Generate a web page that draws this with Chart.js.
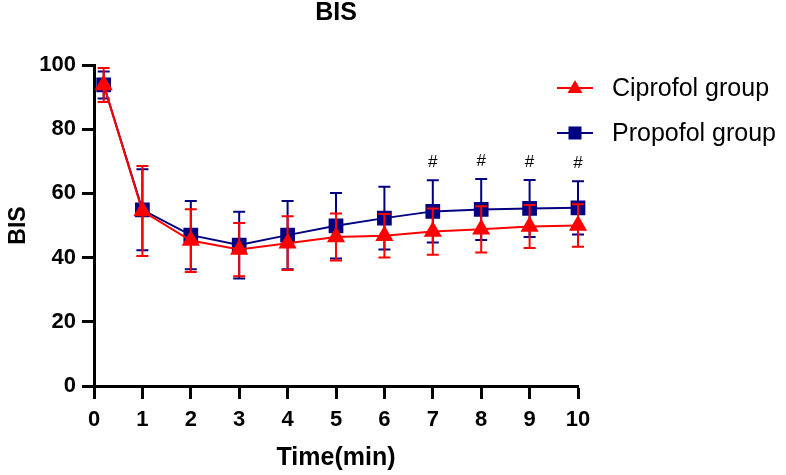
<!DOCTYPE html>
<html>
<head>
<meta charset="utf-8">
<script src="https://cdn.jsdelivr.net/npm/chart.js@4.4.0/dist/chart.umd.min.js"></script>
<style>
  html, body { margin: 0; padding: 0; background: #fff; }
  #wrap { width: 786px; height: 475px; }
</style>
</head>
<body>
<div id="wrap"><canvas id="bisChart" width="786" height="475"></canvas></div>
<script>
// data (mean and SD)
var times = [0.2, 1, 2, 3, 4, 5, 6, 7, 8, 9, 10];
var ciproMean = [93.8, 54.5, 45.3, 42.5, 44.5, 46.4, 46.8, 48.1, 48.8, 49.7, 50.0];
var ciproSd = [5.3, 14.0, 9.8, 8.3, 8.4, 7.3, 6.8, 7.2, 7.2, 6.7, 6.6];
var propoMean = [93.8, 54.9, 47.0, 43.9, 47.0, 49.9, 52.3, 54.4, 55.0, 55.3, 55.5];
var propoSd = [4.2, 12.6, 10.6, 10.4, 10.6, 10.2, 9.8, 9.7, 9.5, 8.9, 8.3];
var sigTimes = [7, 8, 9, 10];
var xTicks = [0, 1, 2, 3, 4, 5, 6, 7, 8, 9, 10];
var yTicks = [0, 20, 40, 60, 80, 100];

var RED = "#ff0000";
var NAVY = "#000080";
var SANS = "'Liberation Sans', Arial, sans-serif";

function toPoints(xs, ys) {
  var out = [];
  for (var i = 0; i < xs.length; i++) out.push({ x: xs[i], y: ys[i] });
  return out;
}

// error bars drawn under each dataset's own line
var errorBars = {
  id: "errorBars",
  beforeDatasetDraw: function (chart, args) {
    var ds = chart.data.datasets[args.index];
    if (!ds.sd) return;
    var ctx = chart.ctx;
    var xs = chart.scales.x, ys = chart.scales.y;
    ctx.save();
    ctx.strokeStyle = ds.borderColor;
    ctx.lineWidth = 2;
    for (var i = 0; i < ds.data.length; i++) {
      var px = xs.getPixelForValue(ds.data[i].x);
      var top = ys.getPixelForValue(ds.data[i].y + ds.sd[i]);
      var bot = ys.getPixelForValue(ds.data[i].y - ds.sd[i]);
      ctx.beginPath();
      ctx.moveTo(px, top); ctx.lineTo(px, bot);
      ctx.moveTo(px - 6, top); ctx.lineTo(px + 6, top);
      ctx.moveTo(px - 6, bot); ctx.lineTo(px + 6, bot);
      ctx.stroke();
    }
    ctx.restore();
  }
};

// title, legend and # marks
var extras = {
  id: "extras",
  afterDraw: function (chart) {
    var ctx = chart.ctx;
    var area = chart.chartArea;
    var xs = chart.scales.x, ys = chart.scales.y;
    ctx.save();
    ctx.fillStyle = "#000";
    ctx.textAlign = "center";
    ctx.textBaseline = "middle";
    ctx.font = "bold 25px " + SANS;
    ctx.fillText("BIS", (area.left + area.right) / 2, 13);

    // # above propofol error bars
    ctx.font = "17px " + SANS;
    for (var i = 0; i < times.length; i++) {
      if (sigTimes.indexOf(times[i]) < 0) continue;
      var px = xs.getPixelForValue(times[i]);
      var py = ys.getPixelForValue(propoMean[i] + propoSd[i]);
      ctx.fillText("#", px, py - 18);
    }

    // legend
    var items = chart.data.datasets;
    ctx.textAlign = "left";
    ctx.font = "25px " + SANS;
    for (var k = 0; k < items.length; k++) {
      var ly = 88 + k * 45;
      ctx.strokeStyle = items[k].borderColor;
      ctx.lineWidth = 2;
      ctx.beginPath();
      ctx.moveTo(557, ly); ctx.lineTo(593, ly);
      ctx.stroke();
      ctx.fillStyle = items[k].pointBackgroundColor;
      if (items[k].pointStyle === "triangle") {
        ctx.beginPath();
        ctx.moveTo(575, ly - 8);
        ctx.lineTo(582.5, ly + 5);
        ctx.lineTo(567.5, ly + 5);
        ctx.closePath();
        ctx.fill();
      } else {
        ctx.fillRect(568.5, ly - 6.5, 13, 13);
      }
      ctx.fillStyle = "#000";
      ctx.fillText(items[k].label, 612, ly + 1);
    }
    ctx.restore();
  }
};

var canvas = document.getElementById("bisChart");

new Chart(canvas, {
  type: "line",
  data: {
    datasets: [
      {
        label: "Ciprofol group",
        data: toPoints(times, ciproMean),
        sd: ciproSd,
        borderColor: RED,
        backgroundColor: RED,
        pointBackgroundColor: RED,
        pointBorderColor: RED,
        pointStyle: "triangle",
        pointRadius: 8.5,
        borderWidth: 2,
        tension: 0,
        clip: false,
      },
      {
        label: "Propofol group",
        data: toPoints(times, propoMean),
        sd: propoSd,
        borderColor: NAVY,
        backgroundColor: NAVY,
        pointBackgroundColor: NAVY,
        pointBorderColor: NAVY,
        pointStyle: "rect",
        pointRadius: 9,
        borderWidth: 2,
        tension: 0,
        clip: false,
      },
    ],
  },
  options: {
    responsive: false,
    animation: false,
    layout: { padding: { top: 65, right: 208, bottom: 0, left: 0 } },
    plugins: {
      legend: { display: false },
      tooltip: { enabled: false },
    },
    scales: {
      x: {
        type: "linear",
        min: 0,
        max: 10,
        afterFit: function (s) { s.height = 89; },
        afterBuildTicks: function (s) {
          s.ticks = xTicks.map(function (v) { return { value: v }; });
        },
        grid: {
          drawOnChartArea: false,
          drawTicks: true,
          tickLength: 13,
          tickWidth: 3,
          tickColor: "#000",
        },
        border: { color: "#000", width: 3 },
        ticks: {
          color: "#000",
          padding: 8,
          maxRotation: 0,
          font: { family: SANS, size: 22, weight: "bold" },
        },
        title: {
          display: true,
          text: "Time(min)",
          color: "#000",
          padding: { top: 0, bottom: 2 },
          font: { family: SANS, size: 25, weight: "bold" },
        },
      },
      y: {
        min: 0,
        max: 100,
        afterFit: function (s) { s.width = 94; },
        afterBuildTicks: function (s) {
          s.ticks = yTicks.map(function (v) { return { value: v }; });
        },
        grid: {
          drawOnChartArea: false,
          drawTicks: true,
          tickLength: 12,
          tickWidth: 3,
          tickColor: "#000",
        },
        border: { color: "#000", width: 3 },
        ticks: {
          color: "#000",
          padding: 6,
          font: { family: SANS, size: 22, weight: "bold" },
        },
        title: {
          display: true,
          text: "BIS",
          color: "#000",
          padding: { top: 5, bottom: 0 },
          font: { family: SANS, size: 23, weight: "bold" },
        },
      },
    },
  },
  plugins: [errorBars, extras],
});
</script>
</body>
</html>
